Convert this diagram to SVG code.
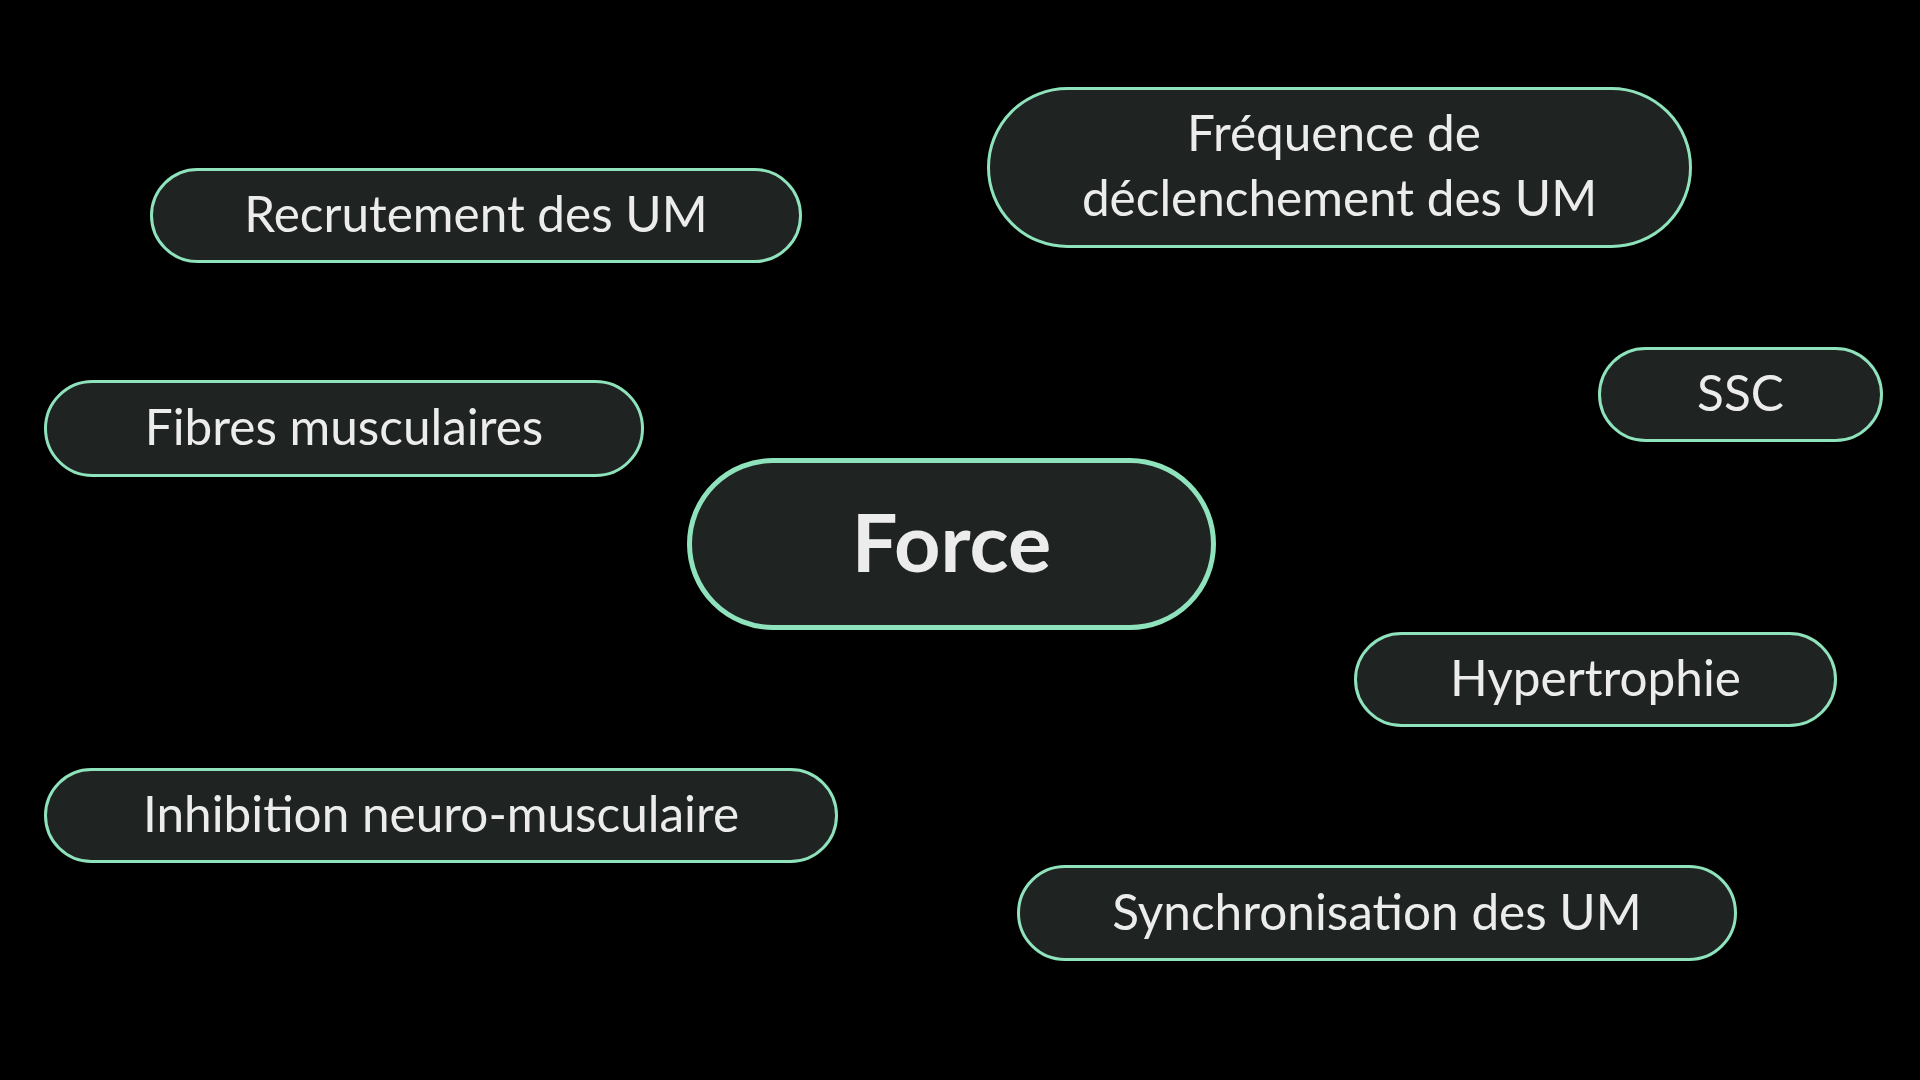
<svg xmlns="http://www.w3.org/2000/svg" width="1920" height="1080" viewBox="0 0 1920 1080">
<style>
.n rect{fill:#1f2322;stroke:#8fe3bc;stroke-width:3}
.n text{font-family:Lato,"Noto Sans","Liberation Sans",sans-serif;font-size:49.5px;fill:#ececec;text-anchor:middle}
#force rect{stroke-width:5}
#force text{font-size:81px;font-weight:bold}
</style>
<rect width="1920" height="1080" fill="#000"/>
<g id="connectors"></g>
<g id="force" class="n"><rect x="689.5" y="460.5" width="524" height="167" rx="83.5"/><text x="951.5" y="572">Force</text></g>
<g id="recrutement" class="n"><rect x="151.5" y="169.5" width="649" height="92" rx="46"/><text x="476" y="232">Recrutement des UM</text></g>
<g id="frequence" class="n"><rect x="988.5" y="88.5" width="702" height="158" rx="79"/><text x="1334" y="151">Fréquence de</text><text x="1339.5" y="215.5">déclenchement des UM</text></g>
<g id="ssc" class="n"><rect x="1599.5" y="348.5" width="282" height="92" rx="46"/><text x="1740.5" y="411">SSC</text></g>
<g id="fibres" class="n"><rect x="45.5" y="381.5" width="597" height="94" rx="47"/><text x="344" y="444.5">Fibres musculaires</text></g>
<g id="hypertrophie" class="n"><rect x="1355.5" y="633.5" width="480" height="92" rx="46"/><text x="1595.5" y="696">Hypertrophie</text></g>
<g id="inhibition" class="n"><rect x="45.5" y="769.5" width="791" height="92" rx="46"/><text x="441" y="832">Inhibition neuro-musculaire</text></g>
<g id="synchronisation" class="n"><rect x="1018.5" y="866.5" width="717" height="93" rx="46.5"/><text x="1377" y="929.5">Synchronisation des UM</text></g>
</svg>
